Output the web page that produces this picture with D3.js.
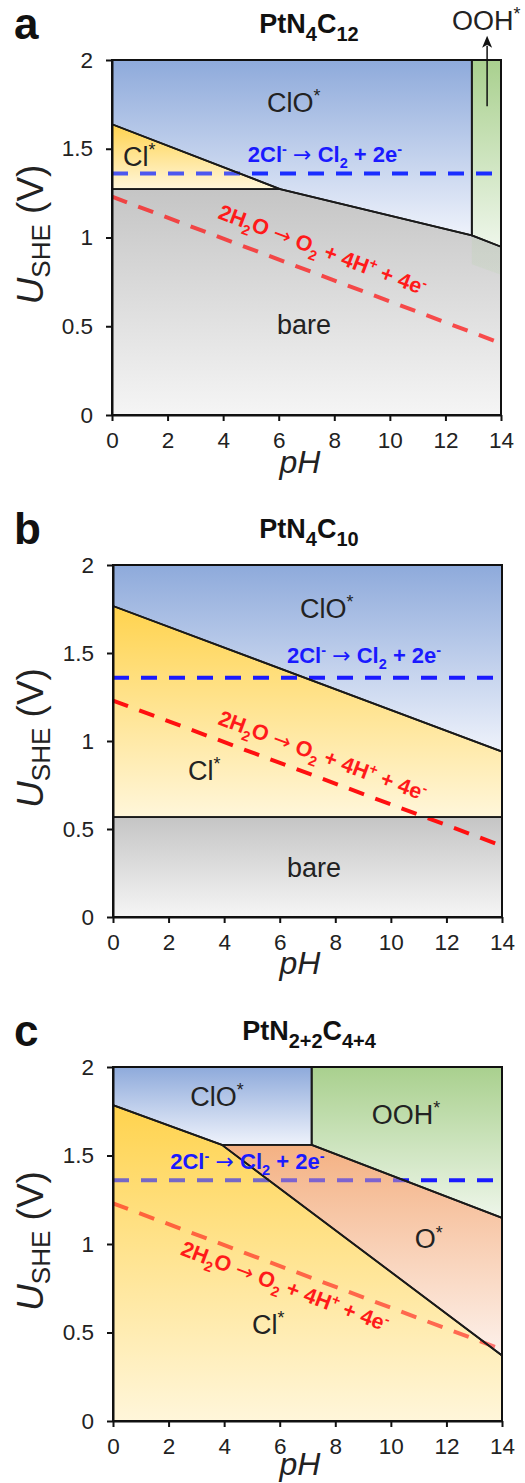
<!DOCTYPE html>
<html><head><meta charset="utf-8">
<script src="https://cdn.jsdelivr.net/npm/d3@7"></script>
<style>
body{margin:0;background:#fff}
svg{display:block}
text{font-family:"Liberation Sans",Arial,sans-serif;white-space:pre}
</style>
</head><body><svg id="chart" width="525" height="1483"></svg>
<script>
// ---------- data ----------
const pHTicks = [0, 2, 4, 6, 8, 10, 12, 14];
const UTicks = [0, 0.5, 1, 1.5, 2];
const waterLine = [[0, 1.23], [14, 0.404]];     // 2H2O -> O2 + 4H+ + 4e-
const chlorineLine = [[0, 1.36], [14, 1.36]];   // 2Cl- -> Cl2 + 2e-

// panel a : PtN4C12
const aClO  = [[0, 2], [12.95, 2], [12.95, 1.012], [6.05, 1.273], [0, 1.638]];
const aCl   = [[0, 1.638], [6.05, 1.273], [0, 1.273]];
const aBare = [[0, 1.273], [6.05, 1.273], [12.95, 1.012], [14, 0.948], [14, 0], [0, 0]];
const aOOH  = [[12.95, 2], [14, 2], [14, 0.948], [12.95, 1.012]];
const aOOHFade = [[12.95, 1.012], [14, 0.948], [14, 0.79], [12.95, 0.85]];

// panel b : PtN4C10
const bClO  = [[0, 2], [14, 2], [14, 0.94], [0, 1.767]];
const bCl   = [[0, 1.767], [14, 0.94], [14, 0.567], [0, 0.567]];
const bBare = [[0, 0.567], [14, 0.567], [14, 0], [0, 0]];

// panel c : PtN2+2C4+4
const cClO  = [[0, 2], [7.15, 2], [7.15, 1.56], [3.92, 1.56], [0, 1.785]];
const cOOH  = [[7.15, 2], [14, 2], [14, 1.148], [7.15, 1.56]];
const cO    = [[3.92, 1.56], [7.15, 1.56], [14, 1.148], [14, 0.37]];
const cCl   = [[0, 1.785], [3.92, 1.56], [14, 0.37], [14, 0], [0, 0]];

// text
const titleA = [["PtN"], ["4", "sub"], ["C"], ["12", "sub"]];
const titleB = [["PtN"], ["4", "sub"], ["C"], ["10", "sub"]];
const titleC = [["PtN"], ["2+2", "sub"], ["C"], ["4+4", "sub"]];
const chlorineLabel = [["2Cl"], ["-", "sup"], [" "], ["\u2192", "arrow"], [" Cl"], ["2", "sub"], [" + 2e"], ["-", "sup"]];
const waterLabel = [["2H"], ["2", "sub"], ["O "], ["\u2192", "arrow"], [" O"], ["2", "sub"], [" + 4H"], ["+", "sup"], [" + 4e"], ["-", "sup"]];
const lblClO = [["ClO"], ["*", "sup"]];
const lblCl = [["Cl"], ["*", "sup"]];
const lblBare = [["bare"]];
const lblOOH = [["OOH"], ["*", "sup"]];
const lblO = [["O"], ["*", "sup"]];

// ---------- styles ----------
const grads = {
  clo:  ["#8eaadb", "#eef2fb"],
  cl:   ["#ffd34e", "#fff6da"],
  bare: ["#c5c5c5", "#f5f5f5"],
  ooh:  ["#a9d08e", "#eef6ea"],
  o:    ["#f4b183", "#fdf1eb"]
};

const panels = [
  { letter: "a", title: titleA, top: 60, bottom: 415, left: 112, right: 501, phOff: 58,
    regions: [
      { pts: aClO, g: "clo" }, { pts: aOOH, g: "ooh" }, { pts: aCl, g: "cl", ov: 0.22 },
      { pts: aBare, g: "bare", ov: 0.28 }
    ],
    fade: aOOHFade,
    labels: [
      { parts: lblClO, at: [5.58, 1.707] }, { parts: lblCl, at: [0.4, 1.405] },
      { parts: lblBare, at: [5.94, 0.456] }
    ],
    blueAt: [4.89, 1.425], redAt: [3.78, 1.11],
    blue: "#1a2dff", red: "#ff1010", ooh: true },
  { letter: "b", title: titleB, top: 565, bottom: 917, left: 113, right: 502, phOff: 57,
    regions: [
      { pts: bClO, g: "clo" }, { pts: bCl, g: "cl" }, { pts: bBare, g: "bare" }
    ],
    labels: [
      { parts: lblClO, at: [6.73, 1.699] }, { parts: lblCl, at: [2.7, 0.779] },
      { parts: lblBare, at: [6.26, 0.23] }
    ],
    blueAt: [6.26, 1.442], redAt: [3.74, 1.097],
    blue: "#1a1aff", red: "#ff1010" },
  { letter: "c", title: titleC, top: 1067, bottom: 1421, left: 113, right: 502, phOff: 54,
    regions: [
      { pts: cClO, g: "clo" }, { pts: cOOH, g: "ooh" }, { pts: cO, g: "o", ov: 0.45 },
      { pts: cCl, g: "cl", ov: 0.4 }
    ],
    labels: [
      { parts: lblClO, at: [2.78, 1.782] }, { parts: lblOOH, at: [9.31, 1.68] },
      { parts: lblO, at: [10.86, 0.975] }, { parts: lblCl, at: [5.0, 0.494] }
    ],
    blueAt: [2.06, 1.426], redAt: [2.39, 0.941],
    blue: "#1a1aff", red: "#ff1010" }
];

// ---------- helpers ----------
function richText(sel, parts, fs, subScale) {
  const sc = subScale || 0.66;
  let shift = 0;
  parts.forEach(([t, kind]) => {
    const small = kind === "sub" || kind === "sup";
    const target = kind === "sub" ? fs * 0.28 : kind === "sup" ? -fs * 0.36 : 0;
    const ts = sel.append("tspan").text(t).attr("font-size", small ? fs * sc : fs);
    if (kind === "arrow") ts.attr("font-weight", "normal").attr("font-family", "'DejaVu Sans', sans-serif");
    if (target !== shift) { ts.attr("dy", target - shift); shift = target; }
  });
  return sel;
}

const svg = d3.select("#chart");
const defs = svg.append("defs");
let gid = 0;
function gradient(key) {
  const id = "g" + (gid++);
  const lg = defs.append("linearGradient").attr("id", id)
    .attr("x1", 0).attr("y1", 0).attr("x2", 0).attr("y2", 1);
  lg.append("stop").attr("offset", 0).attr("stop-color", grads[key][0]);
  lg.append("stop").attr("offset", 1).attr("stop-color", grads[key][1]);
  return "url(#" + id + ")";
}

panels.forEach(p => {
  const x = d3.scaleLinear().domain([0, 14]).range([p.left, p.right]);
  const y = d3.scaleLinear().domain([0, 2]).range([p.bottom, p.top]);
  const poly = d3.line().x(d => x(d[0])).y(d => y(d[1]));
  const g = svg.append("g");

  // region fills
  p.regions.forEach(r => { r.fill = gradient(r.g); });
  p.regions.forEach(r => {
    g.append("path").attr("d", poly(r.pts) + "Z").attr("fill", r.fill);
  });
  if (p.fade) {
    g.append("path").attr("d", poly(p.fade) + "Z").attr("fill", "#a9d08e").attr("fill-opacity", 0.18);
  }

  // reaction lines
  g.append("path").attr("d", poly(chlorineLine)).attr("fill", "none")
    .attr("stroke", p.blue).attr("stroke-width", 4).attr("stroke-dasharray", "16,12");
  g.append("path").attr("d", poly(waterLine)).attr("fill", "none")
    .attr("stroke", p.red).attr("stroke-width", 4).attr("stroke-dasharray", "16,12");

  // overlays (regions drawn over lines, semi-transparent)
  p.regions.filter(r => r.ov).forEach(r => {
    g.append("path").attr("d", poly(r.pts) + "Z").attr("fill", r.fill).attr("fill-opacity", r.ov);
  });

  // boundaries
  p.regions.forEach(r => {
    g.append("path").attr("d", poly(r.pts) + "Z").attr("fill", "none")
      .attr("stroke", "#1a1a1a").attr("stroke-width", 1.8).attr("stroke-linejoin", "round");
  });

  // frame
  g.append("rect").attr("x", x(0)).attr("y", y(2)).attr("width", x(14) - x(0)).attr("height", y(0) - y(2))
    .attr("fill", "none").attr("stroke", "#111").attr("stroke-width", 2);

  // axes
  const ax = g.append("g").attr("transform", `translate(0,${y(0)})`)
    .call(d3.axisBottom(x).tickValues(pHTicks).tickFormat(d => String(d)).tickSize(6).tickSizeOuter(0).tickPadding(11));
  const ay = g.append("g").attr("transform", `translate(${x(0)},0)`)
    .call(d3.axisLeft(y).tickValues(UTicks).tickFormat(d => String(d)).tickSize(6).tickSizeOuter(0).tickPadding(13));
  [ax, ay].forEach(a => {
    a.select(".domain").attr("stroke", "#111").attr("stroke-width", 2);
    a.selectAll(".tick line").attr("stroke", "#111").attr("stroke-width", 2);
    a.selectAll(".tick text").attr("font-size", 22.5).attr("fill", "#222")
      .attr("font-family", "'Liberation Sans', Arial, sans-serif");
  });

  // axis titles
  richText(g.append("text").attr("x", 300).attr("y", y(0) + p.phOff).attr("text-anchor", "middle")
    .attr("font-style", "italic").attr("fill", "#222"), [["pH"]], 32);
  const yl = g.append("text").attr("transform", `translate(43,${(y(0) + y(2)) / 2 - 3}) rotate(-90)`)
    .attr("text-anchor", "middle").attr("fill", "#222");
  yl.append("tspan").text("U").attr("font-size", 37).attr("font-style", "italic");
  yl.append("tspan").text("SHE").attr("font-size", 26).attr("dy", 7);
  yl.append("tspan").text(" (V)").attr("font-size", 37).attr("dy", -7);

  // panel letter and title
  g.append("text").attr("x", 14).attr("y", y(2) - 21).attr("font-size", 44).attr("font-weight", "bold")
    .attr("fill", "#111").text(p.letter);
  richText(g.append("text").attr("x", 309).attr("y", y(2) - 27).attr("text-anchor", "middle")
    .attr("font-weight", "bold").attr("fill", "#111"), p.title, 27, 0.74);

  // region labels
  p.labels.forEach(l => {
    richText(g.append("text").attr("x", x(l.at[0])).attr("y", y(l.at[1])).attr("fill", "#222"), l.parts, 27);
  });

  // reaction labels
  richText(g.append("text").attr("x", x(p.blueAt[0])).attr("y", y(p.blueAt[1]))
    .attr("font-weight", "bold").attr("fill", "#1a1aff"), chlorineLabel, 22);
  const ang = Math.atan2(y(waterLine[1][1]) - y(waterLine[0][1]), x(waterLine[1][0]) - x(waterLine[0][0])) * 180 / Math.PI;
  richText(g.append("text")
    .attr("transform", `translate(${x(p.redAt[0])},${y(p.redAt[1])}) rotate(${ang})`)
    .attr("font-weight", "bold").attr("fill", "#ff1a1a"), waterLabel, 21.5);

  // OOH* annotation with arrow (panel a)
  if (p.ooh) {
    richText(g.append("text").attr("x", 452).attr("y", 30).attr("fill", "#222"), lblOOH, 27);
    g.append("line").attr("x1", x(13.5)).attr("x2", x(13.5)).attr("y1", y(1.74)).attr("y2", y(2.08))
      .attr("stroke", "#111").attr("stroke-width", 1.5);
    const ax0 = x(13.5), ay0 = y(2.12);
    g.append("path").attr("d", `M${ax0},${ay0 - 3}L${ax0 - 5},${ay0 + 9}L${ax0},${ay0 + 6}L${ax0 + 5},${ay0 + 9}Z`)
      .attr("fill", "#111");
  }
});
</script>
</body></html>
